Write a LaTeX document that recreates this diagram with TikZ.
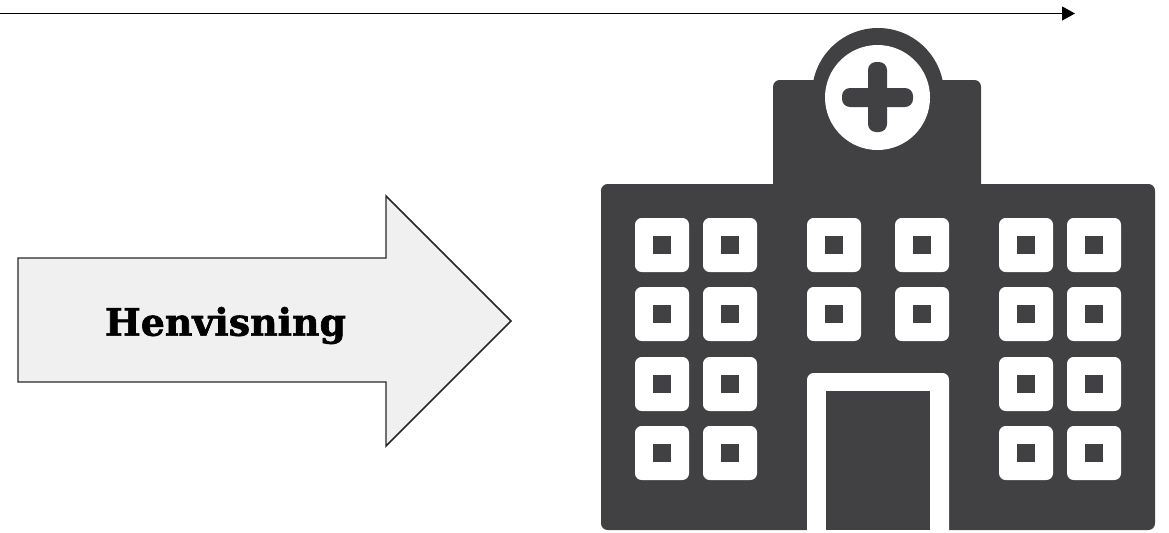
\documentclass[tikz,border=0pt]{standalone}
\usepackage{fontspec}
\setmainfont{DejaVu Serif}
\newfontfamily\slabheavy[FakeBold=1.6]{DejaVu Serif Bold}
\usetikzlibrary{arrows.meta}
\definecolor{hospitaldark}{HTML}{414042}
\definecolor{arrowfill}{HTML}{F0F0F0}
\tikzset{
  hospital/.style={fill=hospitaldark,rounded corners=5pt},
  pane/.style={fill=white,rounded corners=5pt},
}
\begin{document}
\begin{tikzpicture}[>={Triangle[length=9.75pt,width=10.5pt]},x=.75pt,y=-.75pt]
\useasboundingbox (0,0) rectangle (1169,532);
  \coordinate (linestart) at (0,13.5);
  \coordinate (lineend) at (1075,13.5);
  \draw[->,line width=.9pt] (linestart)--(lineend);
  % referral arrow
  \draw[fill=arrowfill,draw=black!85,line width=1.1pt,line join=miter]
    (18,258)--(386,258)--(386,196)--(511,321)--(386,446)--(386,382)--(18,382)--cycle;
  \node[font=\fontsize{28.4}{30}\slabheavy\selectfont,inner sep=0pt] (henvisning) at (225.5,325.5) {Henvisning};
  % hospital
  \fill[hospitaldark] (878,94) circle (66);
  \fill[hospital] (773,80) rectangle (981,200);
  \fill[hospital] (601,184) rectangle (1155,530);
  \fill[white] (877.5,97.5) circle (52.5);
  \fill[hospitaldark,rounded corners=6pt] (868,62) rectangle (887,132);
  \fill[hospitaldark,rounded corners=6pt] (842,88) rectangle (913,107);
  \foreach \xw in {635,703,999,1067}
    \foreach \yw in {218,287,357,426}{
      \fill[pane] (\xw,\yw) rectangle ++(54,54);
      \fill[hospitaldark] (\xw+18,\yw+18) rectangle ++(18,18);
    }
  \foreach \xw in {807,895}
    \foreach \yw in {218,287}{
      \fill[pane] (\xw,\yw) rectangle ++(54,54);
      \fill[hospitaldark] (\xw+18,\yw+18) rectangle ++(18,18);
    }
  % door
  \fill[white] (807,532) [rounded corners=5pt] -- (807,373)--(949,373) [sharp corners] --(949,532)--cycle;
  \fill[hospitaldark] (826,391) rectangle (930,530);
\end{tikzpicture}
\end{document}
